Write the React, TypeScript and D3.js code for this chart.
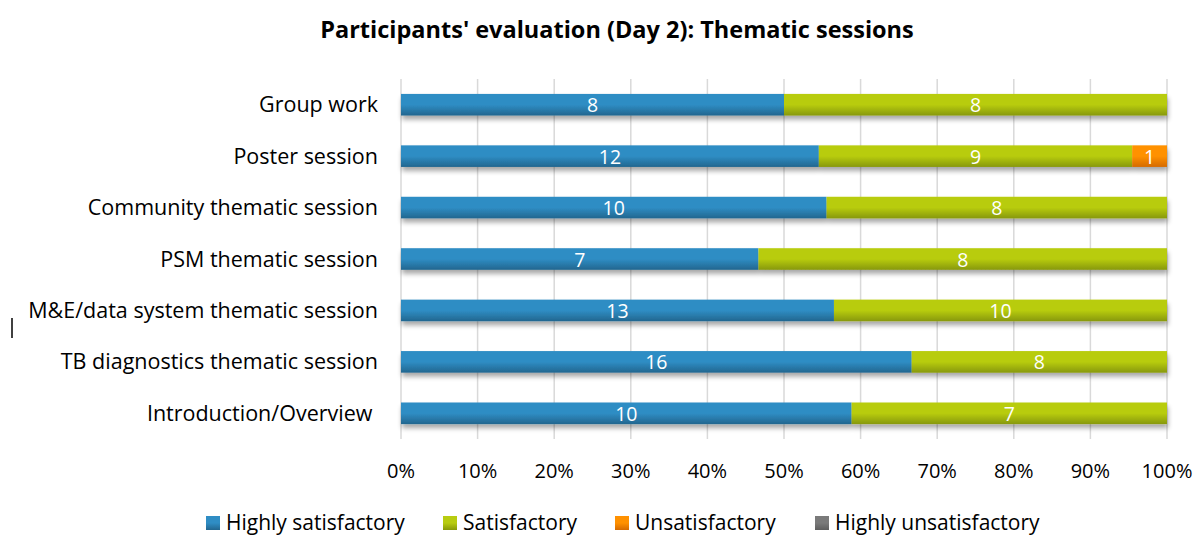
import React from "react";
import * as d3 from "d3";

const categories = [
  "Group work",
  "Poster session",
  "Community thematic session",
  "PSM thematic session",
  "M&E/data system thematic session",
  "TB diagnostics thematic session",
  "Introduction/Overview ",
];
const seriesNames = ["Highly satisfactory", "Satisfactory", "Unsatisfactory", "Highly unsatisfactory"];
const highlySatisfactory = [8, 12, 10, 7, 13, 16, 10];
const satisfactory = [8, 9, 8, 8, 10, 8, 7];
const unsatisfactory = [0, 1, 0, 0, 0, 0, 0];
const highlyUnsatisfactory = [0, 0, 0, 0, 0, 0, 0];
const tickValues = [0, 0.1, 0.2, 0.3, 0.4, 0.5, 0.6, 0.7, 0.8, 0.9, 1];

const colorsTop = ["#2F8DC4", "#B8CC10", "#FF9100", "#7A7A7A"];
const colorsBottom = ["#22668F", "#879808", "#D56A00", "#5E5E5E"];

const W = 1195;
const H = 536;
const FONT = "'Open Sans', sans-serif";

export default function App() {
  const series = [highlySatisfactory, satisfactory, unsatisfactory, highlyUnsatisfactory];
  const x = d3.scaleLinear().domain([0, 1]).range([401, 1167]);
  const y = d3.scaleBand().domain(categories).range([79, 439]).paddingInner(0.58).paddingOuter(0.29);

  const rows = categories.map((c, i) => {
    const vals = series.map((s) => s[i]);
    const total = d3.sum(vals);
    let acc = 0;
    const segs = vals.map((v, k) => {
      const x0 = acc / total;
      acc += v;
      return { v, k, x0, x1: acc / total };
    });
    return { c, segs };
  });

  const legendX = [206, 443, 615, 815];

  return (
    <svg width={W} height={H} style={{ position: "absolute", left: 0, top: 0 }}>
      <defs>
        {colorsTop.map((c, k) => (
          <linearGradient key={k} id={`g${k}`} x1="0" y1="0" x2="0" y2="1">
            <stop offset="0" stopColor={c} />
            <stop offset="0.5" stopColor={c} />
            <stop offset="1" stopColor={colorsBottom[k]} />
          </linearGradient>
        ))}
        <filter id="sh" x="-5%" y="-30%" width="110%" height="180%">
          <feGaussianBlur in="SourceAlpha" stdDeviation="2.5" />
          <feOffset dx="1" dy="4" result="b" />
          <feComponentTransfer>
            <feFuncA type="linear" slope="0.35" />
          </feComponentTransfer>
          <feMerge>
            <feMergeNode />
            <feMergeNode in="SourceGraphic" />
          </feMerge>
        </filter>
      </defs>
      <rect width={W} height={H} fill="#fff" />
      <text x={617} y={38} textAnchor="middle" fontFamily={FONT} fontWeight="bold" fontSize={23.5} fill="#000">
        Participants' evaluation (Day 2): Thematic sessions
      </text>
      {tickValues.map((t) => (
        <line key={t} x1={x(t)} x2={x(t)} y1={79} y2={439} stroke="#D9D9D9" strokeWidth={1.5} />
      ))}
      {rows.map((r) => (
        <g key={r.c} filter="url(#sh)">
          {r.segs.filter((s) => s.v > 0).map((s) => (
            <rect
              key={s.k}
              x={x(s.x0)}
              y={y(r.c)!}
              width={x(s.x1) - x(s.x0)}
              height={y.bandwidth()}
              fill={`url(#g${s.k})`}
            />
          ))}
        </g>
      ))}
      {rows.map((r) =>
        r.segs.filter((s) => s.v > 0).map((s) => (
          <text
            key={r.c + s.k}
            x={(x(s.x0) + x(s.x1)) / 2}
            y={y(r.c)! + y.bandwidth() / 2 + 7.5}
            textAnchor="middle"
            fontFamily={FONT}
            fontSize={19.5}
            fill="#fff"
          >
            {s.v}
          </text>
        ))
      )}
      {categories.map((c) => (
        <text
          key={c}
          x={378}
          y={y(c)! + y.bandwidth() / 2 + 7.5}
          textAnchor="end"
          fontFamily={FONT}
          fontSize={21.5}
          fill="#000"
          style={{ whiteSpace: "pre" }}
        >
          {c}
        </text>
      ))}
      {tickValues.map((t) => (
        <text key={t} x={x(t)} y={478} textAnchor="middle" fontFamily={FONT} fontSize={20} fill="#000">
          {d3.format(".0%")(t)}
        </text>
      ))}
      {seriesNames.map((n, k) => {
        const lx = legendX[k];
        return (
          <g key={n}>
            <rect x={lx} y={516} width={14} height={14} fill={`url(#g${k})`} />
            <text x={lx + 20} y={530} fontFamily={FONT} fontSize={21} fill="#000">
              {n}
            </text>
          </g>
        );
      })}
      <line x1={12} x2={12} y1={318} y2={338} stroke="#000" strokeWidth={1.5} />
    </svg>
  );
}
